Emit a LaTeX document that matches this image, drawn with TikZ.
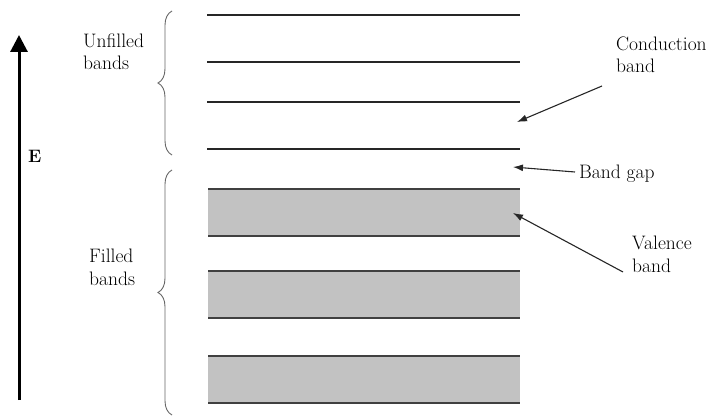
\documentclass[tikz,border=0pt]{standalone}
\usetikzlibrary{decorations.pathreplacing,arrows.meta}
\begin{document}
\begin{tikzpicture}[x=1pt,y=-1pt,
  lbl/.style={anchor=base west,inner sep=0pt,font=\fontsize{19.5}{22.5}\selectfont,align=left},
  level/.style={draw=black!85,line width=1.3pt},
  bandbox/.style={fill=black!24,draw=none},
  bandedge/.style={draw=black!75,line width=1.5pt},
  bracestyle/.style={draw=black!60,line width=0.9pt,decorate,decoration={brace,amplitude=14pt}},
  pointer/.style={draw=black!85,line width=1.1pt,-{Latex[length=10pt,width=7pt]}}]
\useasboundingbox (0,0) rectangle (711,417);
% energy axis
\coordinate (ebot) at (19,400);
\coordinate (etop) at (19,35);
\draw[line width=3pt,-{Triangle[length=17pt,width=17pt]}] (ebot) -- (etop);
\node[lbl,font=\fontsize{18}{22}\selectfont\bfseries] (E) at (28,162) {E};
% unfilled levels
\foreach \y/\n in {15/l1,62/l2,102/l3,149/l4}{
  \coordinate (\n a) at (207,\y);
  \coordinate (\n b) at (520,\y);
  \draw[level] (\n a) -- (\n b);
}
% filled bands
\foreach \t/\b/\n in {189/236/b1,271/318/b2,356/403/b3}{
  \coordinate (\n tl) at (208,\t);
  \coordinate (\n br) at (520,\b);
  \fill[bandbox] (\n tl) rectangle (\n br);
  \draw[bandedge] (208,\t) -- (520,\t);
  \draw[bandedge] (208,\b) -- (520,\b);
}
% braces
\coordinate (ub1) at (172,155);
\coordinate (ub2) at (172,11);
\draw[bracestyle] (ub1) -- (ub2);
\coordinate (fb1) at (172,415);
\coordinate (fb2) at (172,170);
\draw[bracestyle] (fb1) -- (fb2);
% labels
\node[lbl] (unf) at (83,70) {Unfilled\\bands};
\node[lbl] (fil) at (89,285) {Filled\\bands};
\node[lbl] (cond) at (616,73) {Conduction\\band};
\node[lbl] (gap) at (579,178) {Band gap};
\node[lbl] (val) at (632,272) {Valence\\band};
% pointers
\coordinate (c0) at (602,86);
\coordinate (c1) at (517,122);
\draw[pointer] (c0) -- (c1);
\coordinate (g0) at (575,172);
\coordinate (g1) at (513,167);
\draw[pointer] (g0) -- (g1);
\coordinate (v0) at (623,272);
\coordinate (v1) at (513,213);
\draw[pointer] (v0) -- (v1);
\end{tikzpicture}
\end{document}
